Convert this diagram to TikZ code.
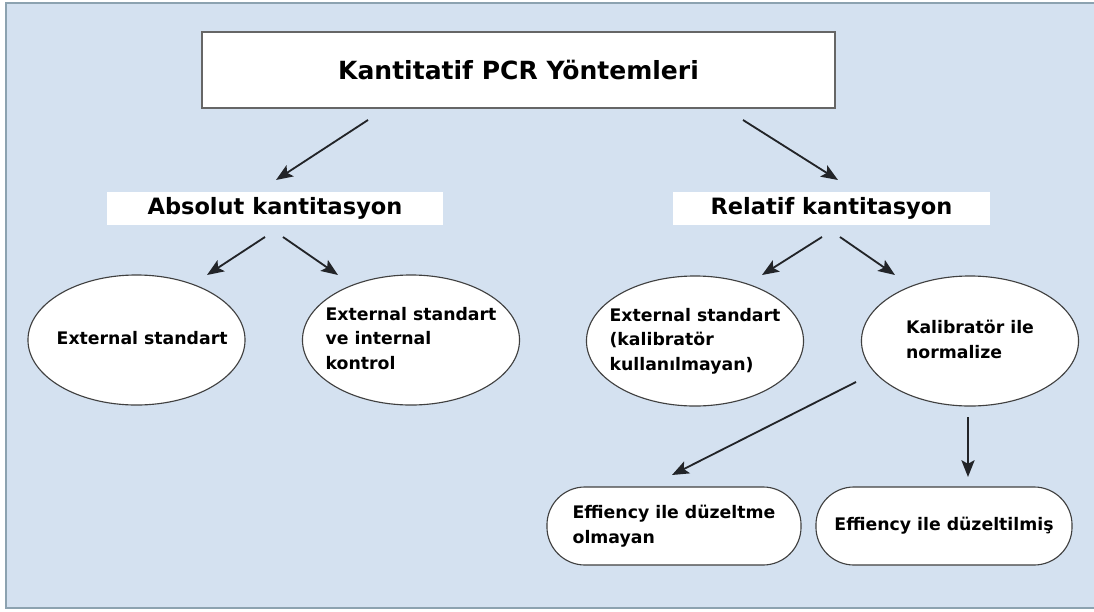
\documentclass[tikz,border=0pt]{standalone}
\usepackage{fontspec}
\setmainfont{DejaVu Sans}
\usetikzlibrary{shapes.geometric,arrows.meta,calc}
\definecolor{panelblue}{RGB}{212,225,240}
\definecolor{panelframe}{RGB}{140,162,176}
\definecolor{arrowgrey}{RGB}{34,36,40}
\newcommand{\ovaltext}[1]{\makebox[0pt]{\begin{tabular}{@{}l@{}}#1\end{tabular}}}
\tikzset{
	titlebox/.style={rectangle, draw=black!60, line width=1.1pt, fill=white,
		minimum width=15.83cm, minimum height=1.9cm, font=\bfseries\fontsize{17.8}{21}\selectfont},
	levelbox/.style={rectangle, fill=white, inner ysep=1pt,
		minimum height=0.825cm, font=\bfseries\fontsize{16}{19}\selectfont},
	ovalbox/.style={ellipse, draw=black!75, line width=0.8pt, fill=white, inner sep=0pt,
		minimum width=5.425cm, minimum height=3.25cm, font=\bfseries\fontsize{12.3}{17.4}\selectfont},
	pillbox/.style={rectangle, rounded corners=0.95cm, draw=black!75, line width=0.8pt, fill=white,
		minimum height=1.95cm, align=left, font=\bfseries\fontsize{12.3}{17.4}\selectfont},
	flowarr/.style={-{Stealth[length=4.2mm,width=3.3mm,inset=0.9mm]}, line width=1.3pt, draw=arrowgrey}
}
\begin{document}
\begin{tikzpicture}[x=0.025cm, y=-0.025cm]
	\useasboundingbox (0,0) rectangle (1094,612);
	\fill[white] (0,0) rectangle (1094,612);
	\draw[panelframe, line width=1.4pt, fill=panelblue] (6,3) rectangle (1104,608);
	% levels
	\node[titlebox] (title) at (518.5,70) {Kantitatif PCR Yöntemleri};
	\node[levelbox, minimum width=8.4cm] (absbox) at (275,208.5) {Absolut kantitasyon};
	\node[levelbox, minimum width=7.925cm] (relbox) at (831.5,208.5) {Relatif kantitasyon};
	% methods
	\node[ovalbox] (a1) at (136.5,340) {\ovaltext{\hspace{8pt}External standart}};
	\node[ovalbox] (a2) at (411,340) {\ovaltext{External standart\\ve internal\\kontrol}};
	\node[ovalbox] (r1) at (695,341) {\ovaltext{External standart\\(kalibratör\\kullanılmayan)}};
	\node[ovalbox] (r2) at (970,341) {\ovaltext{Kalibratör ile\\normalize}};
	\node[pillbox, minimum width=6.35cm] (b1) at (674,526) {Effiency ile düzeltme\\olmayan};
	\node[pillbox, minimum width=6.4cm] (b2) at (944,526) {Effiency ile düzeltilmiş};
	% arrows
	\draw[flowarr] ($(title)+(-150.5,50)$) -- ($(absbox)+(1,-28.5)$);
	\draw[flowarr] ($(title)+(224.5,50)$) -- ($(relbox)+(6.5,-28.5)$);
	\draw[flowarr] ($(absbox)+(-10,28.5)$) -- ($(a1)+(70.5,-65)$);
	\draw[flowarr] ($(absbox)+(8,28.5)$) -- ($(a2)+(-73,-65)$);
	\draw[flowarr] ($(relbox)+(-9.5,28.5)$) -- ($(r1)+(67,-66)$);
	\draw[flowarr] ($(relbox)+(8.5,28.5)$) -- ($(r2)+(-75,-66)$);
	\draw[flowarr] ($(r2)+(-114,41)$) -- ($(b1)+(-2,-51)$);
	\draw[flowarr] ($(r2)+(-2,76)$) -- ($(b2)+(24,-49)$);
\end{tikzpicture}
\end{document}
